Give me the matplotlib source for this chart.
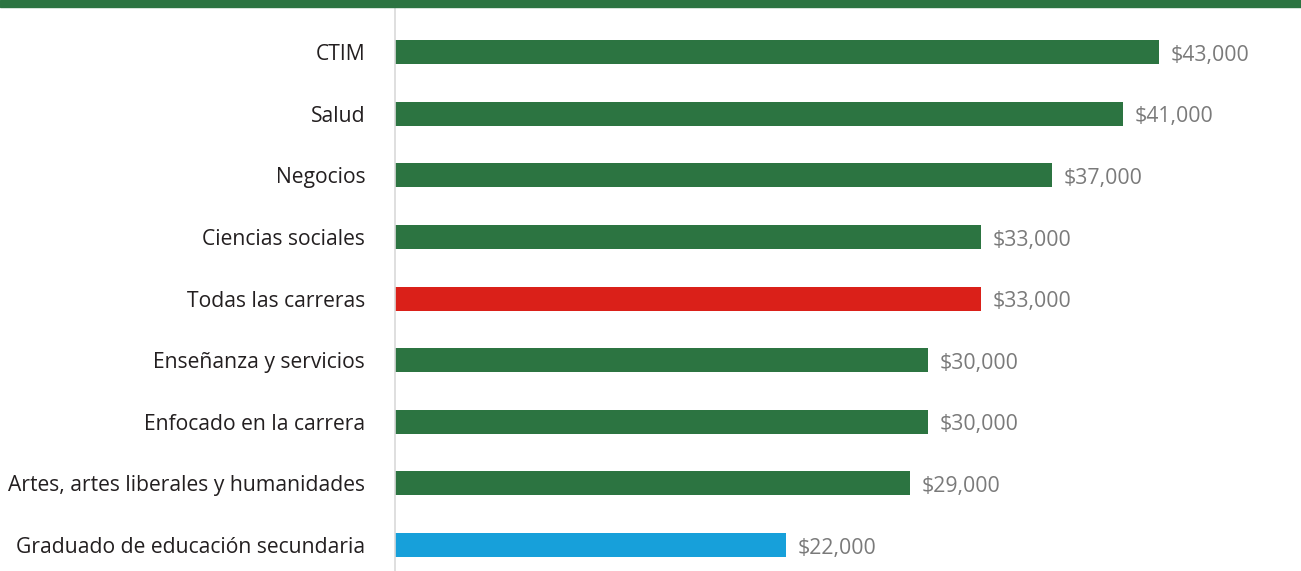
import matplotlib
matplotlib.use("Agg")
import matplotlib.pyplot as plt
from matplotlib.patches import Rectangle

# datos del gráfico
categorias = ["CTIM", "Salud", "Negocios", "Ciencias sociales", "Todas las carreras",
              "Enseñanza y servicios", "Enfocado en la carrera",
              "Artes, artes liberales y humanidades", "Graduado de educación secundaria"]
salarios = [43000, 41000, 37000, 33000, 33000, 30000, 30000, 29000, 22000]
etiquetas = ["$43,000", "$41,000", "$37,000", "$33,000", "$33,000",
             "$30,000", "$30,000", "$29,000", "$22,000"]

verde = "#2c7441"
colores = [verde, verde, verde, verde, "#da2019", verde, verde, verde, "#17a0da"]

plt.rcParams["font.family"] = ["Open Sans", "DejaVu Sans"]

W, H = 1301, 571
fig = plt.figure(figsize=(W / 100, H / 100), dpi=100)

# franja verde superior
fig.patches.append(Rectangle((0, 1 - 7 / H), 1, 7 / H, transform=fig.transFigure,
                             color=verde, zorder=5))

ax = fig.add_axes([395 / W, 0, (W - 395) / W, (H - 7) / H])
y = list(range(len(categorias)))
ax.barh(y, salarios, height=0.39, color=colores)

for yi, v, t in zip(y, salarios, etiquetas):
    ax.text(v + 650, yi + 0.01, t, va="center_baseline", ha="left", fontsize=15.3,
            color="#7a7a7a")

ax.set_xlim(0, 51000)
ax.set_ylim(8.42, -0.73)
ax.set_yticks(y)
ax.set_yticklabels(categorias, fontsize=15.2, color="#231f20")
for lab in ax.get_yticklabels():
    lab.set_verticalalignment("center_baseline")
ax.tick_params(axis="y", length=0, pad=21.5)
ax.set_xticks([])
for s in ["top", "right", "bottom"]:
    ax.spines[s].set_visible(False)
ax.spines["left"].set_color("#d9d9d9")
ax.spines["left"].set_linewidth(1.2)

fig.savefig("out.png", dpi=100)
